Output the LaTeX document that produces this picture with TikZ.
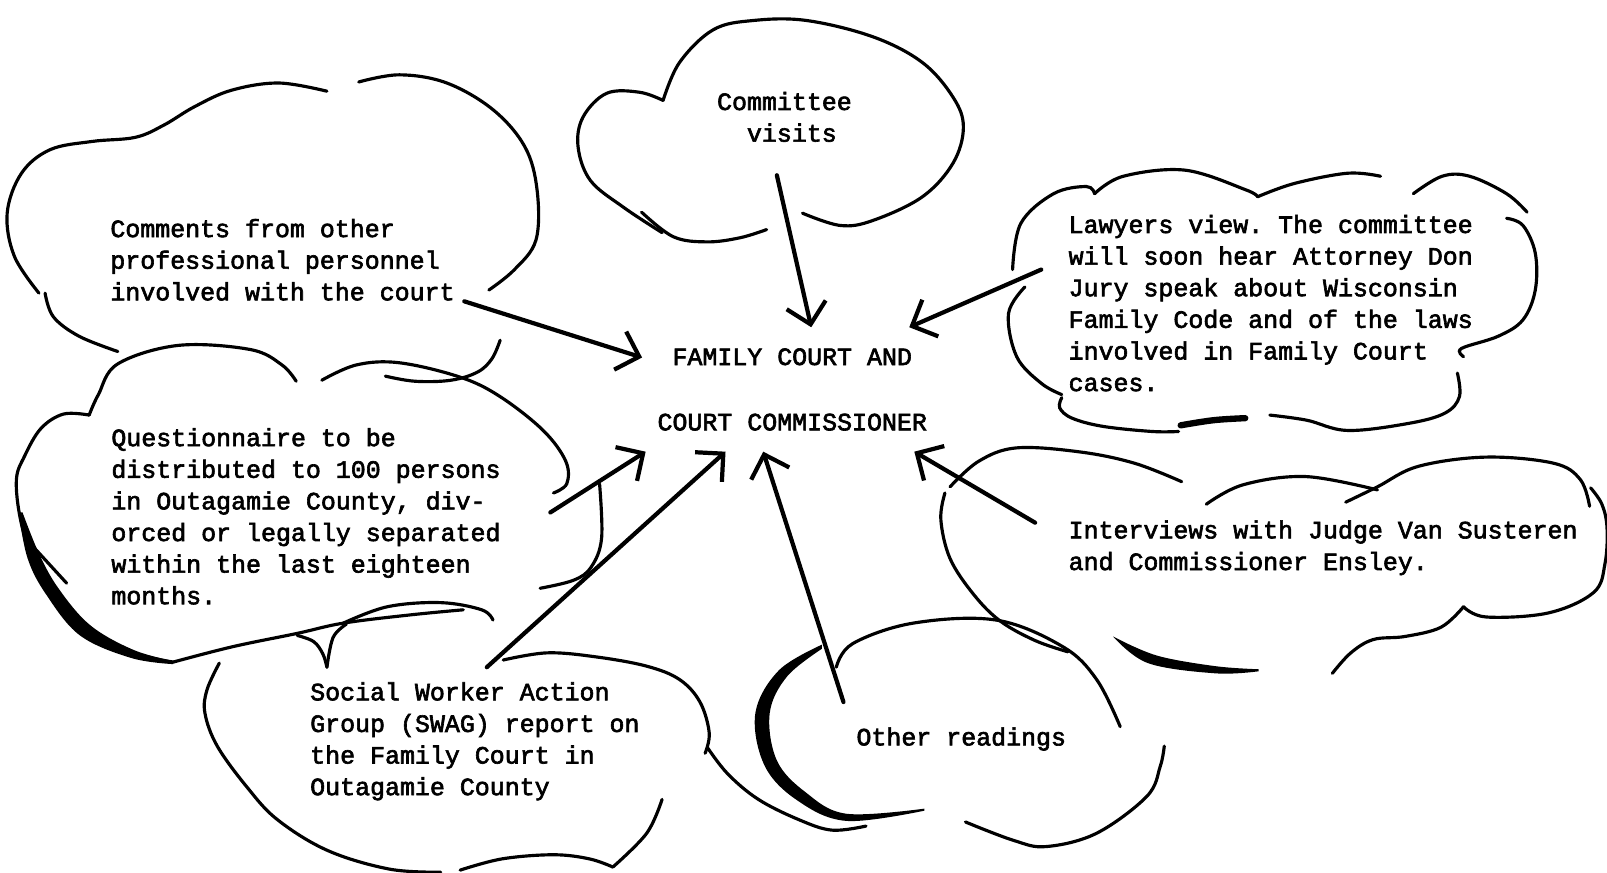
\documentclass[tikz,border=0pt]{standalone}
\usepackage{fontspec}
\newfontfamily\typeface{Liberation Mono}[FakeBold=2.5]
\frenchspacing
\usetikzlibrary{arrows.meta}
\tikzset{>={Straight Barb[length=2mm,width=4mm]}}
\tikzset{
  outline/.style={line width=0.9pt,line cap=round,smooth,tension=0.6},
  heavy/.style={outline,line width=1.8pt},
  blot/.style={fill=black,smooth,tension=0.6},
  feed/.style={->,line width=1.2pt,line cap=round},
  typed/.style={font=\typeface\fontsize{7.1}{9}\selectfont,align=left,anchor=north west,inner sep=0pt},
}

\begin{document}
\begin{tikzpicture}[x=0.010249cm,y=-0.010249cm]
  \useasboundingbox (0,0) rectangle (1568,851);

  % typed notes
  \node[typed,align=center,anchor=center,inner xsep=4.2pt,inner ysep=5.8pt] (hub) at (773,380)
    {FAMILY COURT AND\\[9.6pt]COURT COMMISSIONER};
  \node[typed] (comments) at (107,213) {Comments from other\\professional personnel\\involved with the court};
  \node[typed] (visits) at (699,89) {Committee\\\hspace*{8.5pt}visits};
  \node[typed] (lawyers) at (1042,209) {Lawyers view. The committee\\will soon hear Attorney Don\\Jury speak about Wisconsin\\Family Code and of the laws\\involved in Family Court\\cases.};
  \node[typed] (quest) at (108,417) {Questionnaire to be\\distributed to 100 persons\\in Outagamie County, div-\\orced or legally separated\\within the last eighteen\\months.};
  \node[typed] (interviews) at (1042,507) {Interviews with Judge Van Susteren\\and Commissioner Ensley.};
  \node[typed] (swag) at (302,665) {Social Worker Action\\Group (SWAG) report on\\the Family Court in\\Outagamie County};
  \node[typed] (readings) at (835,709) {Other readings};

  % committee cloud
  \draw[outline] plot coordinates {(647,98) (624,90) (592,91) (569,114) (564,143) (576,176) (608,202) (646,227)};
  \draw[outline] plot coordinates {(647,98) (663,61) (696,29) (735,20) (787,20) (852,36) (900,61) (930,95) (940,124) (930,159) (900,192) (852,215) (820,220) (783,208)};
  \draw[outline] plot coordinates {(626,207) (657,231) (690,236) (722,232) (748,224)};

  % comments cloud
  \draw[outline] plot coordinates {(38,286) (14,250) (7,208) (21,169) (49,146) (90,138) (132,134) (160,122) (190,104) (226,88) (272,81) (319,89)};
  \draw[outline] plot coordinates {(350,80) (390,73) (436,81) (481,107) (512,143) (524,185) (523,234) (502,263) (477,283)};
  \draw[outline] plot coordinates {(44,286) (52,309) (77,328) (115,343)};
  \draw[outline] plot coordinates {(488,332) (480,350) (466,363) (440,371) (405,372) (376,367)};

  % questionnaire cloud
  \draw[outline] plot coordinates {(87,405) (96,385) (115,355) (174,337) (244,341) (275,356) (289,372)};
  \draw[outline] plot coordinates {(87,405) (62,404) (40,418) (24,445) (16,468) (20,507) (32,545) (49,576) (81,615) (130,637) (169,646)};
  \fill[blot] plot coordinates {(18,500) (27,545) (45,580) (78,620) (128,642) (169,648)}
    -- plot coordinates {(169,645) (130,634) (88,610) (57,574) (38,540) (22,500)} -- cycle;
  \draw[outline] plot coordinates {(169,646) (227,631) (290,618) (335,608) (400,600) (452,595)};
  \draw[outline] plot coordinates {(314,371) (348,356) (390,354) (449,368) (488,387) (530,420) (552,450) (553,472) (540,481)};
  \draw[outline] plot coordinates {(585,472) (587,525) (577,553) (560,566) (527,574)};
  \draw[outline] plot coordinates {(32,533) (65,569)};

  % swag cloud
  \draw[outline] plot coordinates {(214,647) (202,673) (200,696) (212,728) (241,768) (271,800) (320,830) (380,848) (430,851)};
  \draw[outline] plot coordinates {(290,620) (306,626) (315,638) (319,651)};
  \draw[outline] plot coordinates {(319,651) (325,622) (338,609)};
  \draw[outline] plot coordinates {(335,608) (378,592) (430,588) (470,595) (481,605)};
  \draw[outline] plot coordinates {(491,644) (534,637) (582,641) (631,650) (663,663) (683,685) (692,715) (688,735)};
  \draw[outline] plot coordinates {(646,780) (631,813) (598,846)};
  \draw[outline] plot coordinates {(449,849) (490,838) (540,834) (575,838) (598,846)};

  % readings cloud
  \draw[outline] plot coordinates {(816,651) (832,628) (891,608) (972,605) (1037,631) (1070,663) (1093,709)};
  \fill[blot] plot coordinates {(802,629) (760,654) (737,696) (746,747) (778,781) (826,801) (902,791)}
    -- plot coordinates {(902,789) (826,794) (786,773) (758,742) (751,696) (768,660) (802,633)} -- cycle;
  \draw[outline] plot coordinates {(690,729) (710,755) (740,780) (780,800) (812,810) (845,806)};
  \draw[outline] plot coordinates {(942,802) (989,820) (1021,826) (1070,813) (1119,777) (1132,748) (1136,728)};

  % interviews cloud
  \draw[outline] plot coordinates {(927,475) (955,450) (992,437) (1054,441) (1107,452) (1153,470)};
  \draw[outline] plot coordinates {(922,481) (918,507) (927,545) (950,580) (976,606) (1010,625) (1042,636)};
  \draw[outline] plot coordinates {(1177,492) (1213,473) (1274,465) (1344,478)};
  \draw[outline] plot coordinates {(1313,490) (1344,475) (1384,455) (1450,446) (1516,452) (1542,468) (1551,494)};
  \draw[outline] plot coordinates {(1552,476) (1563,492) (1568,515) (1566,550) (1555,578) (1511,598) (1450,602) (1428,592)};
  \draw[outline] plot coordinates {(1428,592) (1406,612) (1371,621) (1340,624) (1318,637) (1300,657)};
  \fill[blot] plot coordinates {(1086,621) (1120,647) (1186,657) (1228,655)}
    -- plot coordinates {(1228,653) (1186,650) (1130,640) (1092,624)} -- cycle;

  % lawyers cloud
  \draw[outline] plot coordinates {(988,263) (996,218) (1028,189) (1060,182) (1068,189)};
  \draw[outline] plot coordinates {(1068,189) (1096,172) (1156,166) (1215,185) (1227,192)};
  \draw[outline] plot coordinates {(1227,192) (1263,179) (1315,169) (1347,172)};
  \draw[outline] plot coordinates {(1379,189) (1407,172) (1434,172) (1470,189) (1490,207)};
  \draw[outline] plot coordinates {(1470,213) (1486,220) (1498,247) (1498,283) (1486,312) (1462,328) (1426,340) (1428,348)};
  \draw[outline] plot coordinates {(1422,364) (1424,387) (1410,403) (1375,413) (1315,420) (1275,410) (1239,405)};
  \draw[heavy] plot coordinates {(1152,415) (1184,410) (1215,408)};
  \draw[outline] plot coordinates {(1000,280) (984,306) (992,348) (1016,374) (1036,385)};
  \draw[outline] plot coordinates {(1036,388) (1034,398) (1046,408) (1076,416) (1124,421) (1150,421)};

  % where the arrows start
  \coordinate (from-comments) at (453,294);
  \coordinate (from-visits) at (758,171);
  \coordinate (from-lawyers) at (1016,263);
  \coordinate (from-interviews) at (1010,510);
  \coordinate (from-readings) at (823,685);
  \coordinate (from-swag) at (475,651);
  \coordinate (from-quest) at (537,500);

  \draw[feed] (from-comments) -- (hub.168);
  \draw[feed] (from-visits) -- (hub.73);
  \draw[feed] (from-lawyers) -- (hub.28);
  \draw[feed] (from-interviews) -- (hub.-27);
  \draw[feed] (from-readings) -- (hub.-115);
  \draw[feed] (from-swag) -- (hub.-137);
  \draw[feed] (from-quest) -- (hub.-157);
\end{tikzpicture}
\end{document}
